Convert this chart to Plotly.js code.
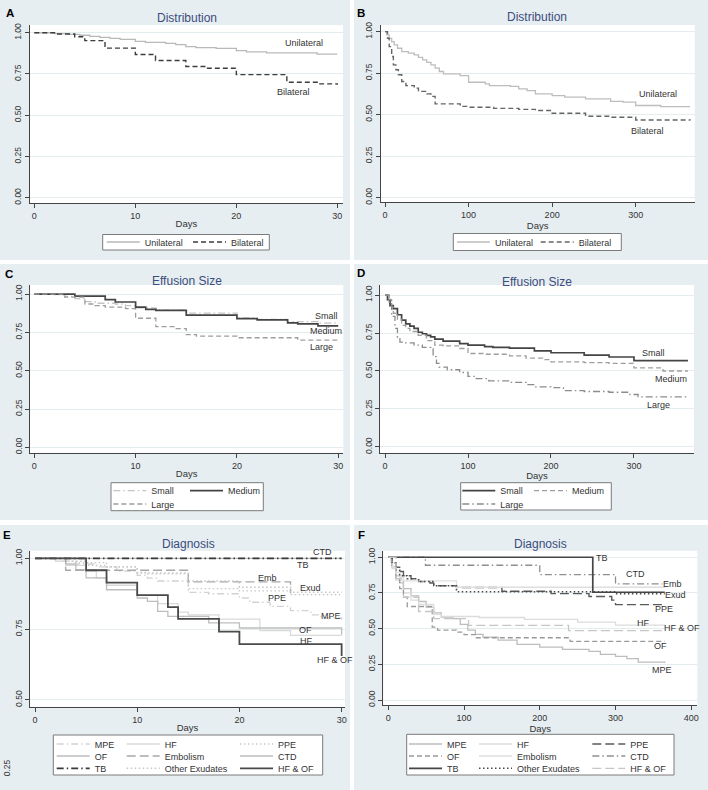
<!DOCTYPE html>
<html><head><meta charset="utf-8">
<script src="https://cdn.plot.ly/plotly-3.0.1.min.js"></script>
<style>html,body{margin:0;padding:0;background:#fff}#chart{width:708px;height:790px}</style>
</head><body><div id="chart"></div>
<script>
// ---------------- DATA ----------------
// Panel A: 30-day, distribution
const aUniX = [0, 2, 3.5, 4.5, 5.5, 6.5, 7.5, 8.5, 10, 11, 13, 14, 15, 16, 18, 20, 21, 23, 28, 30];
const aUniY = [1, 0.995, 0.99, 0.985, 0.978, 0.972, 0.966, 0.96, 0.948, 0.942, 0.935, 0.928, 0.916, 0.91, 0.905, 0.892, 0.884, 0.878, 0.871, 0.871];
const aBiX = [0, 2, 4, 5, 7, 10, 12, 15, 17, 20, 25, 28, 30];
const aBiY = [1, 0.992, 0.976, 0.952, 0.907, 0.868, 0.832, 0.795, 0.785, 0.746, 0.70, 0.69, 0.685];
// Panel B: 1-year, distribution
const bUniX = [0, 2, 5, 8, 11, 15, 20, 28, 35, 40, 45, 50, 55, 60, 65, 70, 90, 100, 120, 125, 150, 160, 170, 180, 200, 215, 240, 270, 285, 300, 330, 365];
const bUniY = [1, 0.98, 0.96, 0.94, 0.92, 0.90, 0.88, 0.87, 0.86, 0.845, 0.83, 0.815, 0.80, 0.78, 0.76, 0.745, 0.735, 0.695, 0.685, 0.675, 0.67, 0.655, 0.645, 0.625, 0.615, 0.605, 0.595, 0.58, 0.575, 0.555, 0.548, 0.548];
const bBiX = [0, 3, 5, 8, 10, 13, 16, 20, 25, 35, 40, 50, 55, 60, 90, 100, 130, 160, 180, 200, 240, 270, 300, 365];
const bBiY = [1, 0.96, 0.91, 0.85, 0.80, 0.77, 0.74, 0.70, 0.675, 0.66, 0.64, 0.625, 0.61, 0.565, 0.55, 0.545, 0.538, 0.532, 0.525, 0.508, 0.49, 0.484, 0.468, 0.465];
// Panel C: 30-day, effusion size
const cSmallX = [0, 2, 3, 4, 5, 6, 8, 9, 10, 12, 15, 20, 22, 25, 28, 30];
const cSmallY = [1, 0.995, 0.985, 0.97, 0.95, 0.94, 0.935, 0.925, 0.91, 0.895, 0.875, 0.845, 0.835, 0.82, 0.81, 0.81];
const cMedX = [0, 4, 7, 8, 10, 11, 12, 15, 20, 22, 25, 26, 28, 30];
const cMedY = [1, 0.987, 0.963, 0.948, 0.915, 0.9, 0.893, 0.862, 0.84, 0.832, 0.812, 0.805, 0.792, 0.792];
const cLargeX = [0, 3, 5, 6, 7, 9, 10, 12, 14, 15, 16, 20, 26, 30];
const cLargeY = [1, 0.98, 0.935, 0.925, 0.915, 0.905, 0.842, 0.787, 0.775, 0.735, 0.725, 0.715, 0.70, 0.70];
// Panel D: 1-year, effusion size
const dSmallX = [0, 3, 6, 10, 15, 20, 25, 30, 35, 40, 45, 50, 55, 60, 70, 90, 100, 120, 130, 150, 180, 200, 240, 270, 300, 365];
const dSmallY = [1, 0.97, 0.93, 0.91, 0.87, 0.835, 0.81, 0.795, 0.78, 0.755, 0.745, 0.735, 0.725, 0.71, 0.697, 0.68, 0.67, 0.66, 0.655, 0.65, 0.632, 0.62, 0.605, 0.592, 0.568, 0.568];
const dMedX = [0, 5, 8, 10, 15, 20, 25, 30, 40, 50, 60, 70, 90, 100, 120, 150, 170, 190, 200, 240, 270, 300, 335, 365];
const dMedY = [1, 0.97, 0.92, 0.88, 0.84, 0.80, 0.78, 0.76, 0.735, 0.70, 0.67, 0.665, 0.648, 0.615, 0.61, 0.60, 0.585, 0.575, 0.56, 0.555, 0.55, 0.52, 0.50, 0.50];
const dLargeX = [0, 5, 8, 12, 15, 18, 25, 35, 45, 55, 58, 62, 65, 75, 90, 100, 110, 125, 150, 170, 180, 200, 215, 240, 270, 295, 305, 365];
const dLargeY = [1, 0.95, 0.86, 0.78, 0.72, 0.69, 0.685, 0.67, 0.655, 0.645, 0.595, 0.55, 0.525, 0.508, 0.49, 0.465, 0.45, 0.435, 0.425, 0.41, 0.395, 0.39, 0.37, 0.365, 0.36, 0.345, 0.33, 0.33];
// Panel E: 30-day, diagnosis
const eMpeX = [0, 2, 4, 6, 8, 10, 11, 12, 15, 17, 20, 21, 23, 25, 27, 28, 30];
const eMpeY = [1, 0.99, 0.98, 0.97, 0.955, 0.94, 0.93, 0.92, 0.88, 0.875, 0.86, 0.845, 0.83, 0.815, 0.80, 0.79, 0.783];
const eHfX = [0, 2, 3, 5, 6, 7, 10, 12, 14, 15, 18, 22, 25, 30];
const eHfY = [1, 0.99, 0.975, 0.955, 0.93, 0.905, 0.87, 0.84, 0.81, 0.80, 0.785, 0.745, 0.728, 0.728];
const ePpeX = [0, 3, 5, 7, 10, 11, 15, 20, 25, 30];
const ePpeY = [1, 0.99, 0.975, 0.97, 0.95, 0.945, 0.893, 0.885, 0.88, 0.88];
const eOfX = [0, 3, 4, 5, 7, 10, 11, 12, 13, 17, 20, 30];
const eOfY = [1, 0.98, 0.96, 0.931, 0.889, 0.86, 0.848, 0.813, 0.795, 0.772, 0.754, 0.73];
const eEmbX = [0, 3, 15, 25];
const eEmbY = [1, 0.958, 0.917, 0.877];
const eCtdX = [0, 30];
const eCtdY = [1, 1];
const eTbX = [0, 30];
const eTbY = [1, 1];
const eExudX = [0, 4, 7, 10, 15, 20, 25, 30];
const eExudY = [1, 0.985, 0.97, 0.948, 0.92, 0.898, 0.872, 0.872];
const eHfOfX = [0, 5, 7, 10, 13, 14, 18, 20, 30];
const eHfOfY = [1, 0.958, 0.914, 0.87, 0.828, 0.786, 0.741, 0.697, 0.655];
// Panel F: 1-year, diagnosis
const fMpeX = [0, 5, 10, 15, 20, 30, 40, 50, 60, 70, 85, 95, 105, 115, 125, 145, 170, 200, 230, 265, 280, 300, 315, 330, 365];
const fMpeY = [1, 0.93, 0.87, 0.82, 0.78, 0.73, 0.69, 0.65, 0.61, 0.58, 0.57, 0.53, 0.49, 0.46, 0.44, 0.42, 0.39, 0.37, 0.355, 0.34, 0.32, 0.305, 0.29, 0.265, 0.26];
const fHfX = [0, 5, 10, 20, 30, 40, 60, 70, 120, 180, 250, 300, 365];
const fHfY = [1, 0.92, 0.84, 0.75, 0.70, 0.67, 0.60, 0.585, 0.578, 0.565, 0.545, 0.525, 0.515];
const fPpeX = [0, 5, 10, 15, 20, 30, 40, 55, 60, 90, 150, 215, 265, 295, 300, 365];
const fPpeY = [1, 0.96, 0.93, 0.90, 0.87, 0.85, 0.83, 0.82, 0.80, 0.788, 0.762, 0.745, 0.725, 0.70, 0.668, 0.668];
const fOfX = [0, 5, 10, 15, 20, 25, 58, 65, 90, 100, 115, 240, 365];
const fOfY = [1, 0.93, 0.85, 0.78, 0.72, 0.655, 0.51, 0.49, 0.475, 0.458, 0.436, 0.411, 0.411];
const fEmbX = [0, 3, 6, 10, 15, 20, 90, 365];
const fEmbY = [1, 0.97, 0.93, 0.89, 0.86, 0.835, 0.79, 0.79];
const fCtdX = [0, 49, 200, 300, 362];
const fCtdY = [1, 0.944, 0.878, 0.813, 0.813];
const fTbX = [0, 270, 365];
const fTbY = [1, 0.755, 0.755];
const fExudX = [0, 5, 10, 15, 25, 40, 60, 90, 300, 365];
const fExudY = [1, 0.96, 0.91, 0.87, 0.85, 0.83, 0.80, 0.758, 0.745, 0.745];
const fHfOfX = [0, 10, 20, 40, 60, 106, 238, 365];
const fHfOfY = [1, 0.85, 0.72, 0.62, 0.57, 0.523, 0.486, 0.486];

// tick values
const xTicks30 = [0, 10, 20, 30];
const xTicks300 = [0, 100, 200, 300];
const xTicks400 = [0, 100, 200, 300, 400];
const yTicks = [0, 0.25, 0.5, 0.75, 1];
const yTicksE = [0.5, 0.75, 1];

// text
const panelLetters = ['A', 'B', 'C', 'D', 'E', 'F'];
const panelTitles = ['Distribution', 'Distribution', 'Effusion Size', 'Effusion Size', 'Diagnosis', 'Diagnosis'];
const xTitle = 'Days';

// ---------------- LAYOUT HELPERS ----------------
const W = 708, H = 790;
const px = x => x / W;
const py = y => 1 - y / H;
const FONT = 'Liberation Sans, Arial, Helvetica, sans-serif';
const TXT = '#333333';

// subplot geometry in pixels [left, right, top, bottom] and axis ranges
const geo = [
  {dom: [29.7, 343, 25, 203.3], xr: [-0.455, 30.56], yr: [-0.034, 1.047], xt: xTicks30, yt: yTicks},
  {dom: [380.7, 694.7, 25, 202.3], xr: [-5.15, 370.6], yr: [-0.028, 1.040], xt: xTicks300, yt: yTicks},
  {dom: [30, 343.3, 285, 452.7], xr: [-0.424, 30.5], yr: [-0.035, 1.059], xt: xTicks30, yt: yTicks},
  {dom: [380, 694, 285, 452.7], xr: [-6.02, 372.3], yr: [-0.038, 1.066], xt: xTicks300, yt: yTicks},
  {dom: [30, 345, 550.7, 706.7], xr: [-0.489, 30.33], yr: [0.476, 1.027], xt: xTicks30, yt: yTicksE},
  {dom: [383.3, 697.3, 550.7, 705], xr: [-6.6, 408], yr: [-0.035, 1.046], xt: xTicks400, yt: yTicks}
];
const panelRects = [[0, 0, 350, 260], [354, 0, 708, 260], [0, 264, 350, 520], [354, 264, 708, 520], [0, 525, 350, 790], [354, 525, 708, 790]];
const letterPos = [[10.3, 13], [361, 13], [8.5, 274], [361, 273], [6.5, 535], [361, 535]];
const titlePos = [[187, 18], [536.7, 17.3], [186.7, 280.7], [536.7, 281.7], [188.3, 544], [540.7, 544]];
const legendBoxes = [[102.7, 234.5, 269.3, 250], [453.3, 233.5, 621.3, 250.5], [111, 482.7, 263.3, 510.7], [460.7, 482.7, 611.3, 510], [53.3, 735, 322.7, 775], [406.7, 734.3, 674, 775]];

const layout = {
  width: W, height: H,
  margin: {l: 0, r: 0, t: 0, b: 0},
  paper_bgcolor: '#ffffff',
  plot_bgcolor: 'rgba(0,0,0,0)',
  font: {family: FONT, color: TXT, size: 9},
  showlegend: true,
  shapes: [],
  annotations: []
};

geo.forEach((g, i) => {
  const n = i === 0 ? '' : String(i + 1);
  layout['xaxis' + n] = {
    domain: [px(g.dom[0]), px(g.dom[1])], range: g.xr, anchor: 'y' + n,
    showgrid: false, zeroline: false, showline: true, linecolor: '#444', linewidth: 1,
    ticks: 'outside', ticklen: 4, tickcolor: '#444', tickvals: g.xt,
    tickfont: {size: 9, color: TXT, family: FONT},
    title: {text: xTitle, font: {size: 9.5, color: TXT, family: FONT}, standoff: 0},
    fixedrange: true
  };
  layout['yaxis' + n] = {
    domain: [py(g.dom[3]), py(g.dom[2])], range: g.yr, anchor: 'x' + n,
    showgrid: true, gridcolor: '#e4ecef', gridwidth: 1, zeroline: false,
    showline: true, linecolor: '#444', linewidth: 1,
    ticks: 'outside', ticklen: 4, tickcolor: '#444', tickvals: g.yt, tickformat: '.2f',
    tickangle: -90, tickfont: {size: 8.5, color: TXT, family: FONT},
    fixedrange: true
  };
  const r = panelRects[i];
  layout.shapes.push({type: 'rect', xref: 'paper', yref: 'paper', x0: px(r[0]), x1: px(r[2]), y0: py(r[3]), y1: py(r[1]),
    fillcolor: '#e7eef1', line: {width: 0}, layer: 'below'});
  layout.shapes.push({type: 'rect', xref: 'paper', yref: 'paper', x0: px(g.dom[0]), x1: px(g.dom[1]), y0: py(g.dom[3]), y1: py(g.dom[2]),
    fillcolor: '#ffffff', line: {width: 0}, layer: 'below'});
  const b = legendBoxes[i];
  layout.shapes.push({type: 'rect', xref: 'paper', yref: 'paper', x0: px(b[0]), x1: px(b[2]), y0: py(b[3]), y1: py(b[1]),
    fillcolor: '#ffffff', line: {width: 1, color: '#7a7a7a'}, layer: 'below'});
  layout.annotations.push({xref: 'paper', yref: 'paper', x: px(letterPos[i][0]), y: py(letterPos[i][1]), text: '<b>' + panelLetters[i] + '</b>',
    showarrow: false, xanchor: 'center', yanchor: 'middle', font: {size: 11.5, color: '#000', family: FONT}});
  layout.annotations.push({xref: 'paper', yref: 'paper', x: px(titlePos[i][0]), y: py(titlePos[i][1]), text: panelTitles[i],
    showarrow: false, xanchor: 'center', yanchor: 'middle', font: {size: 12, color: '#3b4d7c', family: FONT}});
});
// stray 0.25 tick label of panel E's y axis (drawn below its plot region in the original)
layout.annotations.push({xref: 'paper', yref: 'paper', x: px(7), y: py(768.3), text: '0.25', textangle: -90,
  showarrow: false, xanchor: 'center', yanchor: 'middle', font: {size: 8.5, color: TXT, family: FONT}});

// ---------------- TRACES ----------------
const traces = [];
let legCount = 0;
function addTrace(p, xs, ys, name, color, width, dash, legPos) {
  const n = p === 0 ? '' : String(p + 1);
  const legId = legCount === 0 ? 'legend' : 'legend' + (legCount + 1);
  legCount++;
  layout[legId] = {
    x: px(legPos[0] - 5), xanchor: 'left', y: py(legPos[1]), yanchor: 'middle',
    orientation: 'h', bgcolor: 'rgba(0,0,0,0)', borderwidth: 0, itemwidth: 33,
    font: {size: 9, color: TXT, family: FONT}, itemclick: false, itemdoubleclick: false
  };
  traces.push({
    type: 'scatter', mode: 'lines', x: xs, y: ys, name: name,
    xaxis: 'x' + n, yaxis: 'y' + n, legend: legId, showlegend: true, hoverinfo: 'skip',
    line: {shape: 'hv', color: color, width: width, dash: dash}
  });
}
const DASH = '5px,3px', LDASH = '9px,4px', DOT = '1.5px,2.5px', DASHDOT = '7px,3px,1.5px,3px';

// A
addTrace(0, aUniX, aUniY, 'Unilateral', '#b9b9b9', 1.3, 'solid', [106.7, 242]);
addTrace(0, aBiX, aBiY, 'Bilateral', '#3d3d3d', 1.4, DASH, [193, 242]);
// B
addTrace(1, bUniX, bUniY, 'Unilateral', '#bdbdbd', 1.3, 'solid', [457, 242]);
addTrace(1, bBiX, bBiY, 'Bilateral', '#666666', 1.4, DASH, [540.7, 242]);
// C
addTrace(2, cSmallX, cSmallY, 'Small', '#c4c4c4', 1.3, DASHDOT, [113.3, 490.7]);
addTrace(2, cMedX, cMedY, 'Medium', '#444444', 1.7, 'solid', [190, 490.7]);
addTrace(2, cLargeX, cLargeY, 'Large', '#9e9e9e', 1.3, DASH, [113.3, 504]);
// D
addTrace(3, dSmallX, dSmallY, 'Small', '#444444', 1.7, 'solid', [462.3, 490.7]);
addTrace(3, dMedX, dMedY, 'Medium', '#9e9e9e', 1.3, DASH, [534, 490.7]);
addTrace(3, dLargeX, dLargeY, 'Large', '#8c8c8c', 1.3, DASHDOT, [462.3, 504]);
// E
const eCols = [56.7, 126.7, 240], fCols = [409, 479, 592.3], rows = [744, 756, 768.3];
addTrace(4, eMpeX, eMpeY, 'MPE', '#d2d2d2', 1.3, DASHDOT, [eCols[0], rows[0]]);
addTrace(4, eHfX, eHfY, 'HF', '#d9d9d9', 1.3, 'solid', [eCols[1], rows[0]]);
addTrace(4, ePpeX, ePpeY, 'PPE', '#c8c8c8', 1.4, DOT, [eCols[2], rows[0]]);
addTrace(4, eOfX, eOfY, 'OF', '#bdbdbd', 1.3, 'solid', [eCols[0], rows[1]]);
addTrace(4, eEmbX, eEmbY, 'Embolism', '#a8a8a8', 1.4, LDASH, [eCols[1], rows[1]]);
addTrace(4, eCtdX, eCtdY, 'CTD', '#bdbdbd', 1.3, 'solid', [eCols[2], rows[1]]);
addTrace(4, eTbX, eTbY, 'TB', '#3a3a3a', 1.8, DASHDOT, [eCols[0], rows[2]]);
addTrace(4, eExudX, eExudY, 'Other Exudates', '#c4c4c4', 1.4, DOT, [eCols[1], rows[2]]);
addTrace(4, eHfOfX, eHfOfY, 'HF & OF', '#4a4a4a', 1.8, 'solid', [eCols[2], rows[2]]);
// F
addTrace(5, fMpeX, fMpeY, 'MPE', '#bdbdbd', 1.3, 'solid', [fCols[0], rows[0]]);
addTrace(5, fHfX, fHfY, 'HF', '#dcdcdc', 1.3, 'solid', [fCols[1], rows[0]]);
addTrace(5, fPpeX, fPpeY, 'PPE', '#5a5a5a', 1.4, LDASH, [fCols[2], rows[0]]);
addTrace(5, fOfX, fOfY, 'OF', '#9a9a9a', 1.3, DASH, [fCols[0], rows[1]]);
addTrace(5, fEmbX, fEmbY, 'Embolism', '#dedede', 1.3, 'solid', [fCols[1], rows[1]]);
addTrace(5, fCtdX, fCtdY, 'CTD', '#8e8e8e', 1.3, DASHDOT, [fCols[2], rows[1]]);
addTrace(5, fTbX, fTbY, 'TB', '#454545', 1.7, 'solid', [fCols[0], rows[2]]);
addTrace(5, fExudX, fExudY, 'Other Exudates', '#4a4a4a', 1.5, DOT, [fCols[1], rows[2]]);
addTrace(5, fHfOfX, fHfOfY, 'HF & OF', '#c6c6c6', 1.3, LDASH, [fCols[2], rows[2]]);

// curve labels (data coordinates)
const curveLabels = [
  [0, 26.7, 0.936, 'Unilateral'], [0, 25.7, 0.642, 'Bilateral'],
  [1, 327, 0.623, 'Unilateral'], [1, 314.7, 0.402, 'Bilateral'],
  [2, 28.8, 0.857, 'Small'], [2, 28.8, 0.759, 'Medium'], [2, 28.3, 0.656, 'Large'],
  [3, 324, 0.62, 'Small'], [3, 344.2, 0.446, 'Medium'], [3, 329, 0.275, 'Large'],
  [4, 28.15, 1.021, 'CTD'], [4, 26.25, 0.976, 'TB'], [4, 22.7, 0.929, 'Emb'], [4, 27, 0.896, 'Exud'],
  [4, 23.65, 0.861, 'PPE'], [4, 29.0, 0.797, 'MPE'], [4, 26.5, 0.748, 'OF'], [4, 26.6, 0.707, 'HF'], [4, 29.35, 0.641, 'HF &amp; OF'],
  [5, 282.5, 0.993, 'TB'], [5, 326.6, 0.883, 'CTD'], [5, 375, 0.813, 'Emb'], [5, 379.4, 0.736, 'Exud'],
  [5, 364, 0.636, 'PPE'], [5, 337.6, 0.542, 'HF'], [5, 388.1, 0.502, 'HF &amp; OF'], [5, 359.6, 0.378, 'OF'], [5, 361.7, 0.21, 'MPE']
];
curveLabels.forEach(c => {
  const n = c[0] === 0 ? '' : String(c[0] + 1);
  layout.annotations.push({xref: 'x' + n, yref: 'y' + n, x: c[1], y: c[2], text: c[3], showarrow: false,
    xanchor: 'center', yanchor: 'middle', font: {size: 9, color: TXT, family: FONT}});
});

Plotly.newPlot('chart', traces, layout, {staticPlot: true, displayModeBar: false});
</script></body></html>
